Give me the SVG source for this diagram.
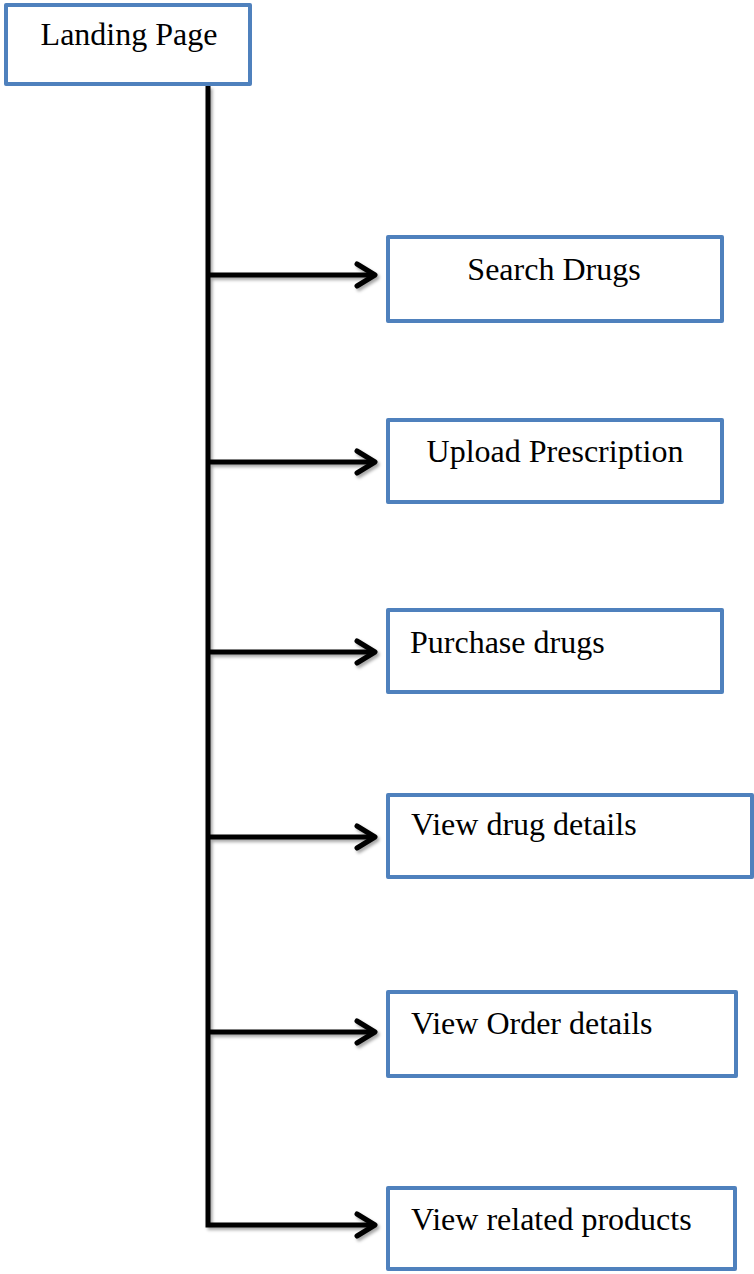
<svg xmlns="http://www.w3.org/2000/svg" width="754" height="1274" viewBox="0 0 754 1274">
  <defs>
    <style>
      .box { fill: #ffffff; stroke: #4f81bd; stroke-width: 4; stroke-linejoin: round; }
      .label { font-family: "Liberation Serif", "Times New Roman", serif; font-size: 32px; fill: #000000; }
      .link { fill: none; stroke: #000000; stroke-width: 5; }
    </style>
    <filter id="shadow" x="-10%" y="-10%" width="130%" height="130%">
      <feDropShadow dx="2" dy="2.5" stdDeviation="1.5" flood-color="#000000" flood-opacity="0.35"/>
    </filter>
    <marker id="chevron" markerUnits="userSpaceOnUse" viewBox="-22 -14 26 28" refX="0" refY="0" markerWidth="26" markerHeight="28" orient="auto">
      <path d="M-18,-11 L0,0 L-18,11" fill="none" stroke="#000000" stroke-width="5" stroke-linecap="round" stroke-linejoin="round"/>
    </marker>
  </defs>

  <rect width="754" height="1274" fill="#ffffff"/>

  <!-- connectors: trunk from the landing page with branches to each action -->
  <g id="connectors" class="link" filter="url(#shadow)">
    <path d="M208,86 V1225 H375" marker-end="url(#chevron)"/>
    <path d="M208,275 H375" marker-end="url(#chevron)"/>
    <path d="M208,462 H375" marker-end="url(#chevron)"/>
    <path d="M208,652 H375" marker-end="url(#chevron)"/>
    <path d="M208,837 H375" marker-end="url(#chevron)"/>
    <path d="M208,1032 H375" marker-end="url(#chevron)"/>
  </g>

  <g id="landing-page">
    <rect class="box" x="6" y="5" width="244" height="79"/>
    <text class="label" x="129" y="45" text-anchor="middle">Landing Page</text>
  </g>

  <g id="search-drugs">
    <rect class="box" x="388" y="237" width="334" height="84"/>
    <text class="label" x="554" y="280" text-anchor="middle">Search Drugs</text>
  </g>

  <g id="upload-prescription">
    <rect class="box" x="388" y="420" width="334" height="82"/>
    <text class="label" x="555" y="462" text-anchor="middle">Upload Prescription</text>
  </g>

  <g id="purchase-drugs">
    <rect class="box" x="388" y="610" width="334" height="82"/>
    <text class="label" x="410" y="653">Purchase drugs</text>
  </g>

  <g id="view-drug-details">
    <rect class="box" x="388" y="795" width="364" height="82"/>
    <text class="label" x="411" y="835">View drug details</text>
  </g>

  <g id="view-order-details">
    <rect class="box" x="388" y="992" width="348" height="84"/>
    <text class="label" x="411" y="1034">View Order details</text>
  </g>

  <g id="view-related-products">
    <rect class="box" x="388" y="1188" width="347" height="81"/>
    <text class="label" x="411" y="1230">View related products</text>
  </g>
</svg>
